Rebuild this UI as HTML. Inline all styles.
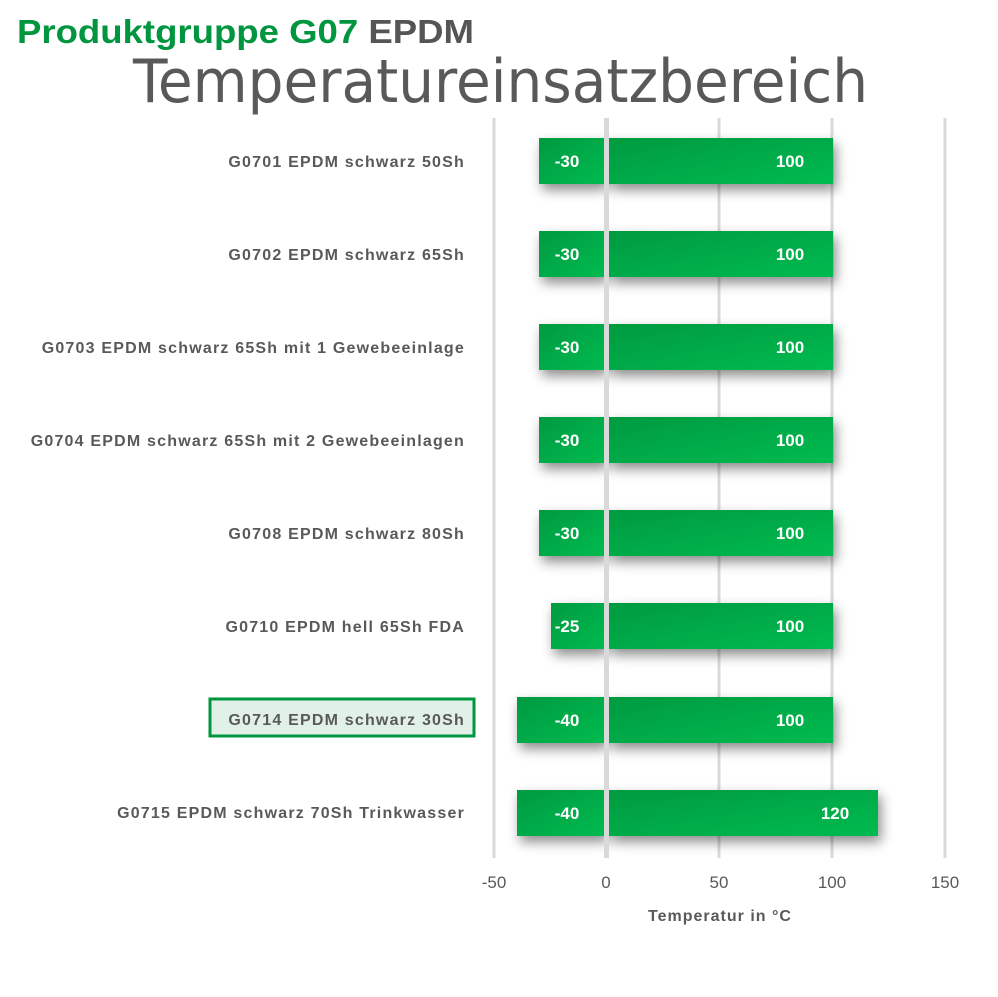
<!DOCTYPE html>
<html><head><meta charset="utf-8"><style>body{margin:0;background:#fff}svg{display:block}</style></head><body>
<svg width="998" height="997" xmlns="http://www.w3.org/2000/svg" font-family="Liberation Sans, Arial, sans-serif">
<defs>
<linearGradient id="g" x1="0" y1="0" x2="1" y2="1"><stop offset="0" stop-color="#009a40"/><stop offset="1" stop-color="#00bb50"/></linearGradient>
<filter id="sh" x="-10%" y="-30%" width="125%" height="180%"><feDropShadow dx="3" dy="6" stdDeviation="6" flood-color="#000" flood-opacity="0.45"/></filter>
</defs>
<text x="17" y="43" font-size="33" font-weight="bold" fill="#00963f" textLength="457" lengthAdjust="spacingAndGlyphs">Produktgruppe G07 <tspan fill="#555">EPDM</tspan></text>
<text x="133" y="102" font-size="60" fill="#595959" font-family="DejaVu Sans, sans-serif" textLength="735" lengthAdjust="spacingAndGlyphs">Temperatureinsatzbereich</text>
<g stroke="#d9d9d9" stroke-width="3">
<line x1="494" y1="118" x2="494" y2="858"/><line x1="719" y1="118" x2="719" y2="858"/><line x1="832" y1="118" x2="832" y2="858"/><line x1="945" y1="118" x2="945" y2="858"/>
</g>
<rect x="210" y="699" width="264" height="37" fill="#e2f1e7" stroke="#00963f" stroke-width="3"/>
<g font-size="16" font-weight="bold" fill="#595959" text-anchor="end" letter-spacing="1.2">
<text x="465" y="167">G0701 EPDM schwarz 50Sh</text>
<text x="465" y="260">G0702 EPDM schwarz 65Sh</text>
<text x="465" y="353">G0703 EPDM schwarz 65Sh mit 1 Gewebeeinlage</text>
<text x="465" y="446">G0704 EPDM schwarz 65Sh mit 2 Gewebeeinlagen</text>
<text x="465" y="539">G0708 EPDM schwarz 80Sh</text>
<text x="465" y="632">G0710 EPDM hell 65Sh FDA</text>
<text x="465" y="725">G0714 EPDM schwarz 30Sh</text>
<text x="465" y="818">G0715 EPDM schwarz 70Sh Trinkwasser</text>
</g>
<g filter="url(#sh)" fill="url(#g)">
<rect x="539" y="138" width="65" height="46"/><rect x="609" y="138" width="224" height="46"/>
<rect x="539" y="231" width="65" height="46"/><rect x="609" y="231" width="224" height="46"/>
<rect x="539" y="324" width="65" height="46"/><rect x="609" y="324" width="224" height="46"/>
<rect x="539" y="417" width="65" height="46"/><rect x="609" y="417" width="224" height="46"/>
<rect x="539" y="510" width="65" height="46"/><rect x="609" y="510" width="224" height="46"/>
<rect x="551" y="603" width="53" height="46"/><rect x="609" y="603" width="224" height="46"/>
<rect x="517" y="697" width="87" height="46"/><rect x="609" y="697" width="224" height="46"/>
<rect x="517" y="790" width="87" height="46"/><rect x="609" y="790" width="269" height="46"/>
</g>
<line x1="606.5" y1="118" x2="606.5" y2="858" stroke="#d9d9d9" stroke-width="5"/>
<g font-size="17" font-weight="bold" fill="#fff" text-anchor="middle">
<text x="567" y="167">-30</text><text x="790" y="167">100</text>
<text x="567" y="260">-30</text><text x="790" y="260">100</text>
<text x="567" y="353">-30</text><text x="790" y="353">100</text>
<text x="567" y="446">-30</text><text x="790" y="446">100</text>
<text x="567" y="539">-30</text><text x="790" y="539">100</text>
<text x="567" y="632">-25</text><text x="790" y="632">100</text>
<text x="567" y="726">-40</text><text x="790" y="726">100</text>
<text x="567" y="819">-40</text><text x="835" y="819">120</text>
</g>
<g font-size="17" fill="#595959" text-anchor="middle">
<text x="494" y="888">-50</text><text x="606" y="888">0</text><text x="719" y="888">50</text><text x="832" y="888">100</text><text x="945" y="888">150</text>
</g>
<text x="720" y="921" font-size="16" font-weight="bold" fill="#595959" text-anchor="middle" letter-spacing="1">Temperatur in °C</text>
</svg>
</body></html>
